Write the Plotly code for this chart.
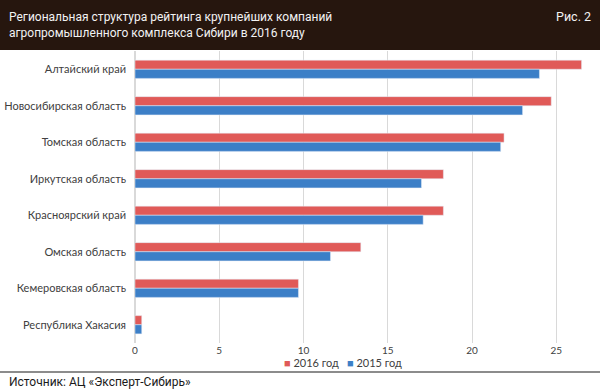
import plotly.graph_objects as go

regions = ["Алтайский край", "Новосибирская область", "Томская область", "Иркутская область",
           "Красноярский край", "Омская область", "Кемеровская область", "Республика Хакасия"]
v2016 = [26.5, 24.7, 21.9, 18.3, 18.3, 13.4, 9.7, 0.4]
v2015 = [24.0, 23.0, 21.7, 17.0, 17.1, 11.6, 9.7, 0.4]
xticks = [0, 5, 10, 15, 20, 25]
series_names = ["2016 год", "2015 год"]
colors = ["#E05A58", "#3C7FC7"]

W, H = 600, 391
ML, MR, MT, MB = 135, 10, 51, 48
fig = go.Figure()
fig.add_trace(go.Bar(y=regions, x=v2016, orientation="h", name=series_names[0],
                     marker=dict(color=colors[0])))
fig.add_trace(go.Bar(y=regions, x=v2015, orientation="h", name=series_names[1],
                     marker=dict(color=colors[1])))

label_font = "Lato, 'Open Sans', sans-serif"
cond_font = "Roboto, 'Liberation Sans', sans-serif"

def px_x(px):
    return (px - ML) / (W - ML - MR)

def px_y(py):
    return (H - MB - py) / (H - MT - MB)

fig.update_layout(
    width=W, height=H,
    margin=dict(l=ML, r=MR, t=MT, b=MB),
    paper_bgcolor="white", plot_bgcolor="white",
    barmode="group", bargap=0.5, bargroupgap=0,
    showlegend=False,
    xaxis=dict(range=[0, 27], tickvals=xticks, showgrid=True, gridcolor="#D9D9D9",
               gridwidth=1, zeroline=True, zerolinecolor="#D9D9D9", showline=False,
               automargin=False,
               tickfont=dict(family=label_font, size=10, color="#404040"), ticks=""),
    yaxis=dict(autorange="reversed", showgrid=False, showline=False, ticks="",
               automargin=False, ticklabelstandoff=8,
               tickfont=dict(family=label_font, size=11, color="#404040")),
    font=dict(family=label_font),
    shapes=[
        dict(type="rect", xref="paper", yref="paper", x0=px_x(0), x1=px_x(W),
             y0=px_y(50), y1=px_y(0), fillcolor="#26160E", line=dict(width=0), layer="below"),
        dict(type="line", xref="paper", yref="paper", x0=px_x(0), x1=px_x(W),
             y0=px_y(372), y1=px_y(372), line=dict(color="#8C8C8C", width=2)),
    ],
)

fig.add_annotation(text="Региональная структура рейтинга крупнейших компаний<br>агропромышленного комплекса Сибири в 2016 году",
                   xref="paper", yref="paper", x=px_x(7), y=px_y(25), xanchor="left", yanchor="middle",
                   align="left", showarrow=False,
                   font=dict(family=cond_font, size=12, color="#F2F2F2"))
fig.add_annotation(text="Рис. 2", xref="paper", yref="paper", x=px_x(593), y=px_y(16),
                   xanchor="right", yanchor="middle", showarrow=False,
                   font=dict(family=cond_font, size=12.5, color="#F2F2F2"))
fig.add_annotation(text="Источник: АЦ «Эксперт-Сибирь»", xref="paper", yref="paper",
                   x=px_x(7), y=px_y(382), xanchor="left", yanchor="middle", showarrow=False,
                   font=dict(family=cond_font, size=12, color="#1a1a1a"))
# legend entries
leg_x = [282, 345]
for name, col, lx in zip(series_names, colors, leg_x):
    fig.add_annotation(text=f"<span style='color:{col}'>■</span> {name}", xref="paper", yref="paper",
                       x=px_x(lx), y=px_y(362), xanchor="left", yanchor="middle", showarrow=False,
                       font=dict(family=label_font, size=11, color="#404040"))

fig.write_html("out.html", config={"displayModeBar": False},
               post_script="document.body.style.margin='0px';")
